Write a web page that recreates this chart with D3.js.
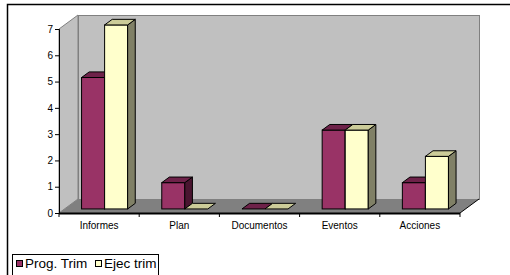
<!DOCTYPE html>
<html>
<head>
<meta charset="utf-8">
<script src="https://cdn.jsdelivr.net/npm/d3@7"></script>
<style>
  body { margin: 0; background: #fff; }
  text { font-family: "Liberation Sans", Arial, sans-serif; fill: #000; }
</style>
</head>
<body>
<div id="chart"></div>
<script>
// chart data
var categories = ["Informes", "Plan", "Documentos", "Eventos", "Acciones"];
var series = ["Prog. Trim", "Ejec trim"];
var progTrim = [5, 1, 0, 3, 1];
var ejecTrim = [7, 0, 0, 3, 2];
var yTicks = [0, 1, 2, 3, 4, 5, 6, 7];

var W = 510, H = 275;

// colours per series: front, top, side
var colors = [
  {front: "#993366", top: "#6e2249", side: "#4a1530"},
  {front: "#ffffcc", top: "#cccc99", side: "#808066"}
];

var svg = d3.select("#chart").append("svg")
    .attr("width", W)
    .attr("height", H);

// outer frame (left + top only visible)
svg.append("path")
    .attr("d", "M7.5," + H + "V4.5H" + W)
    .attr("fill", "none")
    .attr("stroke", "#000")
    .attr("stroke-width", 1.5);

var plot = {left: 59, right: 460, bottom: 213, top: 29};
var depthX = 19, depthY = 14;

var x = d3.scaleBand().domain(categories).range([plot.left, plot.right]);
var xs = d3.scaleBand().domain(series).range([0, x.bandwidth()]).paddingOuter(0.74);
var y = d3.scaleLinear().domain([0, 7]).range([plot.bottom, plot.top]);

var x0 = plot.left, x1 = plot.right, yb = y(0), yt = y(7);

// left wall
svg.append("polygon")
    .attr("points", [[x0, yb], [x0, yt], [x0 + depthX, yt - depthY], [x0 + depthX, yb - depthY]].join(" "))
    .attr("fill", "#c0c0c0")
    .attr("stroke", "#808080");

// back wall
svg.append("rect")
    .attr("x", x0 + depthX + 0.5)
    .attr("y", yt - depthY + 0.5)
    .attr("width", x1 - x0)
    .attr("height", yb - yt)
    .attr("fill", "#c0c0c0")
    .attr("stroke", "#808080");

// floor
svg.append("polygon")
    .attr("points", [[x0, yb], [x1, yb], [x1 + depthX, yb - depthY], [x0 + depthX, yb - depthY]].join(" "))
    .attr("fill", "#808080")
    .attr("stroke", "none");
svg.append("line")
    .attr("x1", x1).attr("y1", yb)
    .attr("x2", x1 + depthX).attr("y2", yb - depthY)
    .attr("stroke", "#000");

// bars
var frontFrac = 0.29, backFrac = 0.69;
var sx = depthX * frontFrac, sy = depthY * frontFrac;
var bdx = depthX * (backFrac - frontFrac), bdy = depthY * (backFrac - frontFrac);

var bars = [];
categories.forEach(function(c, i) {
  bars.push({cat: c, s: 0, value: progTrim[i]});
  bars.push({cat: c, s: 1, value: ejecTrim[i]});
});

var g = svg.selectAll(".bar")
    .data(bars)
  .enter().append("g")
    .attr("class", "bar");

g.each(function(d) {
  var el = d3.select(this);
  var bx0 = x(d.cat) + xs(series[d.s]) + sx;
  var bx1 = bx0 + xs.bandwidth();
  var byb = y(0) - sy;
  var byt = y(d.value) - sy;
  var c = colors[d.s];
  if (d.value > 0) {
    el.append("rect")
        .attr("x", bx0).attr("y", byt)
        .attr("width", bx1 - bx0).attr("height", byb - byt)
        .attr("fill", c.front).attr("stroke", "#000");
    el.append("polygon")
        .attr("points", [[bx1, byt], [bx1 + bdx, byt - bdy], [bx1 + bdx, byb - bdy], [bx1, byb]].join(" "))
        .attr("fill", c.side).attr("stroke", "#000");
  }
  el.append("polygon")
      .attr("points", [[bx0, byt], [bx0 + bdx, byt - bdy], [bx1 + bdx, byt - bdy], [bx1, byt]].join(" "))
      .attr("fill", c.top).attr("stroke", "#000");
});

// y axis
var yAxis = d3.axisLeft(y).tickValues(yTicks).tickSize(4).tickPadding(2).tickFormat(d3.format("d"));
var ya = svg.append("g")
    .attr("transform", "translate(" + x0 + ",0)")
    .call(yAxis);
ya.select(".domain").attr("stroke", "#000");
ya.selectAll("text").style("font-size", "10px").attr("fill", "#000");

// x axis front edge
svg.append("line")
    .attr("x1", x0).attr("y1", yb + 0.5)
    .attr("x2", x1).attr("y2", yb + 0.5)
    .attr("stroke", "#000")
    .attr("stroke-width", 2);

var bounds = categories.map(function(c) { return x(c); }).concat([x1]);
svg.selectAll(".xtick")
    .data(bounds)
  .enter().append("line")
    .attr("class", "xtick")
    .attr("x1", function(d) { return d; }).attr("x2", function(d) { return d; })
    .attr("y1", yb).attr("y2", yb + 4)
    .attr("stroke", "#000");

svg.selectAll(".xlabel")
    .data(categories)
  .enter().append("text")
    .attr("class", "xlabel")
    .attr("x", function(d) { return x(d) + x.bandwidth() / 2; })
    .attr("y", 229)
    .attr("text-anchor", "middle")
    .style("font-size", "10px")
    .text(function(d) { return d; });

// legend
svg.append("rect")
    .attr("x", 12.5).attr("y", 254.5)
    .attr("width", 146).attr("height", 30)
    .attr("fill", "#fff")
    .attr("stroke", "#000");

var legendPos = [16, 95];
var legend = svg.selectAll(".legend")
    .data(series)
  .enter().append("g")
    .attr("class", "legend")
    .attr("transform", function(d, i) { return "translate(" + legendPos[i] + ",0)"; });

legend.append("rect")
    .attr("x", 0.5).attr("y", 260.5)
    .attr("width", 6).attr("height", 6)
    .attr("fill", function(d, i) { return colors[i].front; })
    .attr("stroke", "#000");

legend.append("text")
    .attr("x", 9)
    .attr("y", 268)
    .style("font-size", "13.5px")
    .text(function(d) { return d; });
</script>
</body>
</html>
